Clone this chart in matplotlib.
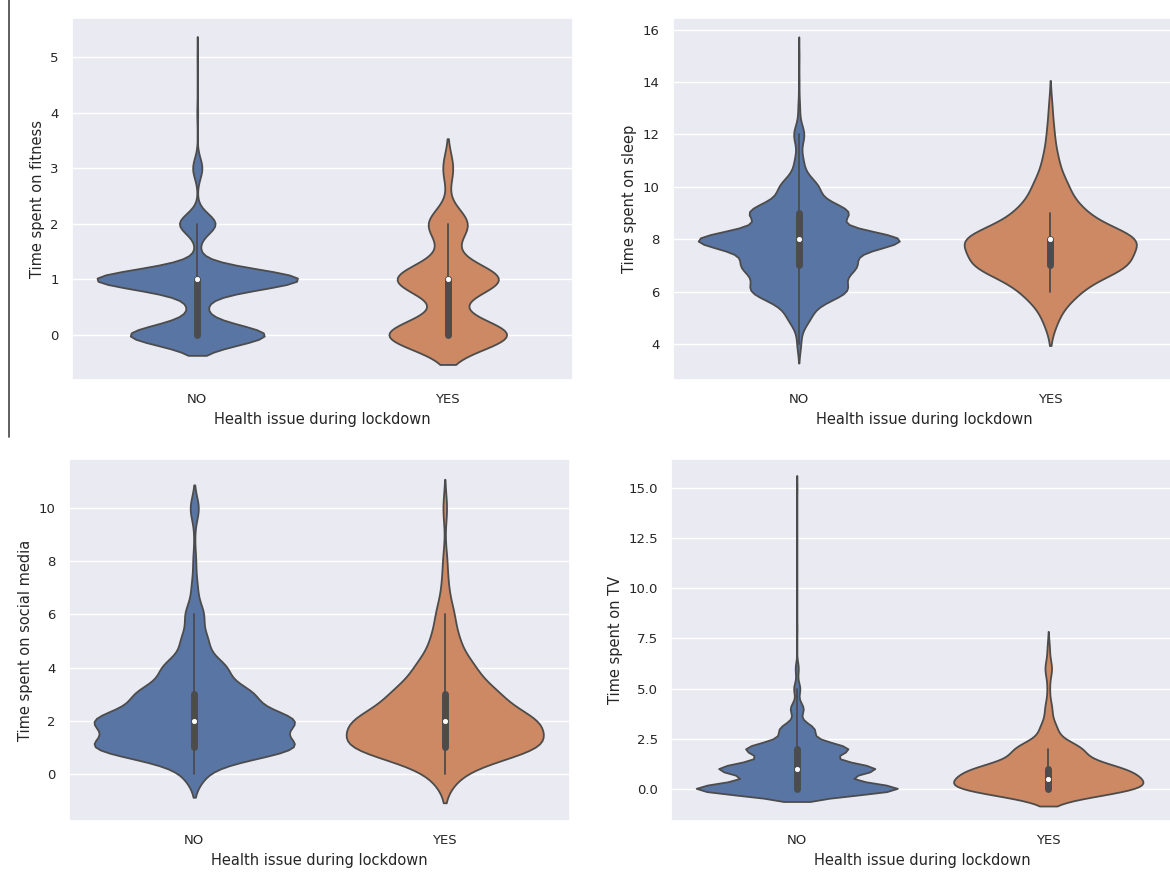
import matplotlib
matplotlib.use("Agg")
import matplotlib.pyplot as plt
import numpy as np
import pandas as pd
import seaborn as sns
from matplotlib.lines import Line2D

sns.set_theme(style="darkgrid")

groups = ["NO", "YES"]

fitness_vals_no = [0, 0.5, 1, 1.5, 2, 3, 4, 5]
fitness_cnt_no = [320, 35, 480, 8, 85, 22, 2, 1]
fitness_vals_yes = [0, 0.5, 1, 1.5, 2, 3]
fitness_cnt_yes = [118, 6, 100, 8, 38, 10]

sleep_vals_no = [4, 4.5, 5, 5.5, 6, 6.5, 7, 7.5, 8, 9, 9.5, 10, 10.5, 11, 12, 13, 14, 15]
sleep_cnt_no = [6, 2, 30, 25, 130, 65, 150, 60, 330, 160, 25, 55, 8, 12, 18, 3, 1, 1]
sleep_vals_yes = [5, 6, 7, 8, 9, 10, 11, 12, 13]
sleep_cnt_yes = [4, 14, 40, 46, 17, 9, 4, 2, 1]

social_vals_no = [0, 0.5, 1, 1.5, 2, 2.5, 3, 3.5, 4, 5, 6, 7, 8, 9, 10]
social_cnt_no = [25, 10, 260, 15, 250, 20, 140, 10, 80, 35, 25, 8, 4, 1, 12]
social_vals_yes = [0, 1, 1.5, 2, 3, 4, 5, 6, 7, 8, 10]
social_cnt_yes = [12, 80, 8, 75, 45, 25, 12, 8, 3, 2, 2]

tv_vals_no = [0, 0.5, 1, 1.5, 2, 2.5, 3, 4, 5, 6, 8, 15]
tv_cnt_no = [380, 40, 280, 40, 180, 25, 60, 25, 12, 6, 1, 1]
tv_vals_yes = [0, 0.5, 1, 1.5, 2, 3, 4, 5, 6, 7]
tv_cnt_yes = [60, 35, 47, 6, 26, 7, 3, 1, 3, 1]


def make_df(vals_no, cnt_no, vals_yes, cnt_yes):
    v_no = np.repeat(vals_no, cnt_no)
    v_yes = np.repeat(vals_yes, cnt_yes)
    return pd.DataFrame({
        "health": ["NO"] * len(v_no) + ["YES"] * len(v_yes),
        "val": np.concatenate([v_no, v_yes]),
    })


panels = [
    (make_df(fitness_vals_no, fitness_cnt_no, fitness_vals_yes, fitness_cnt_yes),
     "Time spent on fitness", [72, 18, 501, 362], (-0.81, 5.70)),
    (make_df(sleep_vals_no, sleep_cnt_no, sleep_vals_yes, sleep_cnt_yes),
     "Time spent on sleep", [673, 18, 503, 362], (2.62, 16.45)),
    (make_df(social_vals_no, social_cnt_no, social_vals_yes, social_cnt_yes),
     "Time spent on social media", [69, 459, 501, 362], (-1.77, 11.85)),
    (make_df(tv_vals_no, tv_cnt_no, tv_vals_yes, tv_cnt_yes),
     "Time spent on TV", [671, 459, 503, 362], (-1.6, 16.45)),
]

W, H = 1170, 872
fig = plt.figure(figsize=(W / 100, H / 100), dpi=100)

for df, ylab, (px, py, pw, ph), ylim in panels:
    ax = fig.add_axes([px / W, 1 - (py + ph) / H, pw / W, ph / H])
    sns.violinplot(data=df, x="health", y="val", hue="health", order=groups,
                   hue_order=groups, palette="deep", legend=False,
                   common_norm=True, linewidth=1.3,
                   inner_kws=dict(box_width=5, whis_width=1.3, marker="o"),
                   ax=ax)
    # smaller median dots
    for ln in ax.lines:
        if ln.get_marker() == "o":
            ln.set_markersize(3)
            ln.set_markeredgewidth(0.6)
    ax.set_ylim(ylim)
    ax.set_xlim(-0.5, 1.5)
    ax.set_xlabel("Health issue during lockdown", fontsize=10.5)
    ax.set_ylabel(ylab, fontsize=10.5)
    ax.tick_params(labelsize=9.5)

# stray divider line on the left
fig.add_artist(Line2D([9 / W, 9 / W], [1, 1 - 437 / H], color="#444444", linewidth=1.2))

fig.savefig("out.png", dpi=100)
